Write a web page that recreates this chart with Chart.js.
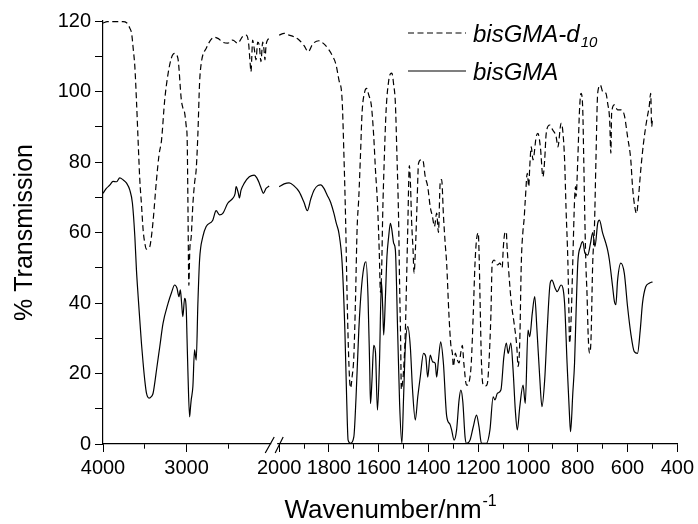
<!DOCTYPE html>
<html><head><meta charset="utf-8">
<script src="https://cdn.jsdelivr.net/npm/chart.js@4.4.1/dist/chart.umd.min.js"></script>
<style>html,body{margin:0;padding:0;background:#fff;}#wrap{width:698px;height:524px;}</style>
</head><body><div id="wrap"><canvas id="c" width="698" height="524"></canvas></div>
<script>
const FONT = '"Liberation Sans", Arial, Helvetica, sans-serif';

// ---- tick labels ----
const xLeftMajor = [4000, 3000];
const xLeftMinor = [3500, 2500];
const xRightMajor = [2000, 1800, 1600, 1400, 1200, 1000, 800, 600, 400];
const xRightMinor = [1900, 1700, 1500, 1300, 1100, 900, 700, 500];
const yTickLabels = [0, 20, 40, 60, 80, 100, 120];
const seriesNames = ['bisGMA-d', 'bisGMA'];
const seriesSub = ['10', ''];

// ---- bisGMA-d10 (dashed) : high-wavenumber part (4000-2000) ----
const d10LeftWn = [4000,3950,3857,3760,3718,3680,3658,3638,3619,3600,3580,3560,3540,3520,3500,3480,3460,3440,3420,3400,3360,3330,3300,3262,3222,3182,3143,3104,3063,3040,3024,3004,2993,2985,2973,2962,2945,2925,2905,2885,2865,2845,2825,2765,2667,2620,2568,2508,2448,2390,2330,2289,2260,2240,2230,2220,2211,2190,2170,2150,2130,2111,2090,2075,2063,2050,2032,2012];
const d10LeftT  = [119.4,119.8,119.8,119.8,119.5,118,116.5,112,107,97.6,86,75,68,60.7,57,55.3,55.5,56,59,63.5,75,82,86.2,97.6,105,109.5,110.8,109.4,97.6,95,94,90,86.2,70,45,55,58.8,68,74,78,88,102.4,108,112.3,115.4,115,114,113.7,114.6,113.7,115.6,116,114,108,105.6,110,114.6,112,109,114,113,108.5,114,112,109,113,114.6,115];
// ---- bisGMA-d10 (dashed) : low-wavenumber part (2000-500) ----
const d10RightWn = [2000,1980,1960,1940,1920,1900,1883,1865,1840,1820,1800,1785,1773,1760,1747,1740,1733,1727,1722,1717,1713,1707,1700,1693,1687,1680,1673,1667,1656,1649,1640,1629,1620,1613,1605,1598,1593,1588,1584,1578,1570,1560,1553,1547,1540,1533,1527,1520,1516,1512,1509,1505,1500,1493,1488,1483,1477,1472,1468,1462,1458,1452,1446,1440,1430,1423,1413,1403,1393,1384,1376,1367,1360,1353,1347,1340,1333,1327,1318,1310,1304,1300,1292,1285,1277,1270,1264,1258,1247,1235,1228,1220,1213,1207,1200,1197,1193,1187,1180,1170,1163,1157,1149,1144,1136,1123,1113,1104,1099,1093,1087,1085,1077,1067,1056,1045,1040,1033,1027,1020,1016,1011,1003,997,993,987,980,967,960,950,940,933,927,913,900,887,880,867,860,853,847,840,836,833,826,820,813,809,807,800,793,787,780,776,771,767,763,758,753,747,740,733,727,720,709,700,687,680,672,667,664,653,640,627,613,600,587,580,571,564,557,547,536,527,520,513,507,503,500];
const d10RightT  = [116,116.5,116,115.5,114.6,113,111.3,113.5,114.4,113.5,111.8,110,108,103.3,97.6,82.5,63.5,41.8,27.6,18.2,15.9,19,24.8,41.8,60.7,70,82.5,93.8,100,100.9,99,95.7,87.2,77.7,68.3,55,43,50,65,80,95,103,105,105.2,102,96.6,82.5,63.5,45,30,15.5,17,21,32,46.5,62,79,73,63.5,55,48.5,56,68,79.6,80.6,80.6,75.8,73,67.3,64.5,61.7,65.5,60,74,75,65,57,51.3,37,28,25.8,22,25.8,24,23,26,28,23,16.7,18.2,23,37,51.3,57.9,59.9,55,41.8,23,16.7,16.5,17.3,23,37,51.3,52.2,50.8,51.3,50,56,59.9,60.2,57,48.5,40,34.3,27.6,22,29.5,51.3,60.7,63.5,69.2,76.8,73,78.7,84.3,80.6,87.2,88.1,84,75.8,80.6,88,90.5,89,87.2,84.3,91,88.6,80.6,66.4,52.2,39,28.6,37,52,69.2,73,70.2,80.6,94.8,99.5,94.8,80.6,61.7,50,42.8,30.4,25.8,29.5,51.3,61.7,80.6,99.5,101.8,100,99.5,96.7,92,82.5,93.8,96.2,94.8,94.8,93.3,87.2,80.6,73,67.3,65.4,69.2,77.7,85.3,90,93,95.7,99.5,90,92];

// ---- bisGMA (solid) : high-wavenumber part ----
const bisLeftWn = [4000,3960,3917,3880,3837,3800,3758,3718,3679,3648,3619,3600,3580,3560,3540,3520,3500,3480,3449,3420,3401,3380,3360,3321,3282,3222,3180,3143,3115,3092,3075,3060,3045,3024,3004,2995,2985,2964,2955,2945,2925,2905,2885,2865,2845,2806,2766,2687,2647,2607,2567,2508,2448,2420,2408,2381,2369,2349,2310,2250,2191,2160,2131,2100,2083,2050,2012];
const bisLeftT  = [71.1,72.5,73.5,74.5,74.4,75.5,74.9,74,72,68.3,58.8,49.4,42,35.2,28.5,22.9,18,14.4,13,13.5,14.4,17.5,21,27.6,34.2,39.9,43,45.1,44.2,41.8,43.7,40,36.1,41.3,38,30,21,7.7,10,12.5,16.3,26.7,23.8,40,52.2,58.8,61.7,63.5,66.2,65,65.4,68.3,69.7,71,73,71.1,69.8,72,74,75.8,76.3,75.5,74,72,71.1,72.5,73.2];
// ---- bisGMA (solid) : low-wavenumber part ----
const bisRightWn = [2000,1980,1960,1940,1920,1900,1887,1873,1860,1845,1833,1820,1807,1793,1780,1770,1760,1747,1736,1729,1723,1713,1700,1691,1680,1669,1656,1651,1643,1636,1633,1627,1620,1613,1605,1597,1589,1584,1580,1573,1567,1560,1553,1547,1540,1533,1524,1516,1507,1500,1493,1483,1473,1464,1453,1443,1433,1420,1411,1403,1393,1383,1373,1367,1360,1351,1340,1327,1313,1307,1297,1287,1277,1270,1262,1253,1247,1233,1220,1207,1197,1187,1167,1153,1140,1133,1123,1109,1097,1087,1080,1069,1060,1051,1043,1033,1020,1011,1000,993,983,973,964,953,944,933,923,911,904,891,883,867,853,843,833,829,820,813,807,800,789,780,771,760,749,740,731,720,713,700,687,680,673,660,653,647,640,627,613,600,587,573,560,549,540,527,513,500];
const bisRightT  = [73,73.8,74.1,73.2,71.6,68.5,66.2,69.5,72,73.3,73.5,72.5,70.6,68.5,65.4,62.5,59.8,51.3,32.3,13.4,1.1,0.2,2,13.4,32.3,44.6,51.3,51.7,41.8,21,11.5,18.2,28,26,9.6,22.9,46,38.9,30.9,41.8,53.1,58.8,62.6,60.7,57,55,32.3,11.5,0.2,13.4,27.6,33.3,27.6,15.3,6.8,13.4,19,25.7,24.8,19,25.2,23.3,22.9,19,23.8,29,22.9,8,5.5,4,1.1,4,12.5,15.3,12,2,0.2,1.1,4.9,8.2,4.9,0.2,0.2,4,13.4,12.5,14.4,15.3,24.8,28.6,25.7,28.6,21,9.6,4,10.6,16.7,11.5,32.3,30.4,37,41.8,32.3,19,10.6,18.2,32.3,45.6,46.5,44.2,43.2,45.1,39.9,22.9,7.7,3.5,14.4,22.9,37,51.3,56,57.4,54.1,53.6,56.9,60,56,62.6,63.5,59.8,56.9,55,52.2,44.6,40.5,39.5,46.5,51.3,48.4,39,31.4,26.2,25.7,32.3,39.9,44.6,45.6,46];

// ---- broken-axis mapping (wavenumber -> linear position along x scale) ----
const LEFT_K = 0.084, RIGHT_K = 0.25, RIGHT_START = 177, X_MAX = 577, GAP_U = 172.5;
const uLeft = w => (4000 - w) * LEFT_K;
const uRight = w => RIGHT_START + (2000 - w) * RIGHT_K;

function buildSeries(lw, lt, rw, rt) {
  const pts = lw.map((w, i) => ({x: uLeft(w), y: lt[i]}));
  pts.push({x: GAP_U, y: null});
  rw.forEach((w, i) => pts.push({x: uRight(w), y: rt[i]}));
  return pts;
}

const xTicks = [];
xLeftMajor.forEach(w => xTicks.push({u: uLeft(w), label: String(w), major: true}));
xLeftMinor.forEach(w => xTicks.push({u: uLeft(w), label: '', major: false}));
xRightMajor.forEach(w => xTicks.push({u: uRight(w), label: String(w), major: true}));
xRightMinor.forEach(w => xTicks.push({u: uRight(w), label: '', major: false}));
xTicks.sort((a, b) => a.u - b.u);

const DASH = [6, 3.5];

const overlay = {
  id: 'overlay',
  afterDraw(chart) {
    const ctx = chart.ctx;
    const xs = chart.scales.x, ys = chart.scales.y;
    const yb = ys.getPixelForValue(0);
    ctx.save();
    // axis break
    const xa = xs.getPixelForValue(168), xb = xs.getPixelForValue(RIGHT_START);
    ctx.fillStyle = '#fff';
    ctx.fillRect(xa + 1, yb - 2, xb - xa - 3, 4);
    ctx.strokeStyle = '#000'; ctx.lineWidth = 1.2; ctx.setLineDash([]);
    ctx.beginPath();
    ctx.moveTo(xa - 5, yb + 9); ctx.lineTo(xa + 4, yb - 7);
    ctx.moveTo(xb - 4, yb + 9); ctx.lineTo(xb + 4, yb - 7);
    ctx.stroke();
    // x title with superscript
    ctx.fillStyle = '#000';
    ctx.textBaseline = 'alphabetic';
    ctx.textAlign = 'left';
    const main = 'Wavenumber/nm', sup = '-1';
    ctx.font = '26px ' + FONT;
    const mw = ctx.measureText(main).width;
    ctx.font = '16px ' + FONT;
    const sw = ctx.measureText(sup).width;
    const cx = (chart.chartArea.left + chart.chartArea.right) / 2;
    const x0 = cx - (mw + sw) / 2;
    ctx.font = '26px ' + FONT;
    ctx.fillText(main, x0, 518);
    ctx.font = '16px ' + FONT;
    ctx.fillText(sup, x0 + mw + 1, 506);
    // legend
    const legY = [33, 71];
    chart.data.datasets.forEach((ds, i) => {
      ctx.strokeStyle = '#000'; ctx.lineWidth = 1.2;
      ctx.setLineDash(i === 0 ? DASH : []);
      ctx.beginPath(); ctx.moveTo(408, legY[i]); ctx.lineTo(466, legY[i]); ctx.stroke();
      ctx.setLineDash([]);
      ctx.font = 'italic 24px ' + FONT;
      ctx.fillText(seriesNames[i], 473, legY[i] + 9);
      if (seriesSub[i]) {
        const w = ctx.measureText(seriesNames[i]).width;
        ctx.font = 'italic 15px ' + FONT;
        ctx.fillText(seriesSub[i], 473 + w + 1, legY[i] + 14);
      }
    });
    ctx.restore();
  }
};

new Chart(document.getElementById('c'), {
  type: 'line',
  data: {
    datasets: [
      {label: 'bisGMA-d10', data: buildSeries(d10LeftWn, d10LeftT, d10RightWn, d10RightT),
       borderColor: '#000', borderWidth: 1.2, borderDash: DASH, pointRadius: 0, fill: false,
       cubicInterpolationMode: 'monotone', spanGaps: false},
      {label: 'bisGMA', data: buildSeries(bisLeftWn, bisLeftT, bisRightWn, bisRightT),
       borderColor: '#000', borderWidth: 1.2, pointRadius: 0, fill: false,
       cubicInterpolationMode: 'monotone', spanGaps: false}
    ]
  },
  options: {
    responsive: false, animation: false, devicePixelRatio: 1,
    layout: {padding: {left: 0, top: 21, right: 18, bottom: 0}},
    plugins: {legend: {display: false}, tooltip: {enabled: false}},
    scales: {
      x: {
        type: 'linear', min: 0, max: X_MAX,
        afterBuildTicks: s => { s.ticks = xTicks.map(t => ({value: t.u})); },
        afterFit: s => { s.height = 80; },
        ticks: {autoSkip: false, maxRotation: 0, minRotation: 0, padding: 4, color: '#000',
                font: {family: FONT, size: 20},
                callback: (v, i) => xTicks[i] ? xTicks[i].label : ''},
        grid: {drawOnChartArea: false, drawTicks: true, tickLength: 8, tickColor: '#000', tickWidth: 1,
               tickBorderDash: c => (xTicks[c.index] && !xTicks[c.index].major) ? [4.5, 20] : []},
        border: {display: true, color: '#000', width: 1.2}
      },
      y: {
        type: 'linear', min: 0, max: 120,
        afterFit: s => { s.width = 103; },
        ticks: {stepSize: 10, padding: 4, color: '#000', font: {family: FONT, size: 20},
                callback: v => yTickLabels.includes(v) ? String(v) : ''},
        grid: {drawOnChartArea: false, drawTicks: true, tickLength: 8, tickColor: '#000', tickWidth: 1},
        border: {display: true, color: '#000', width: 1.2},
        title: {display: true, text: '% Transmission', color: '#000', font: {family: FONT, size: 25},
                padding: {top: 10, bottom: 0}}
      }
    }
  },
  plugins: [overlay]
});
</script></body></html>
